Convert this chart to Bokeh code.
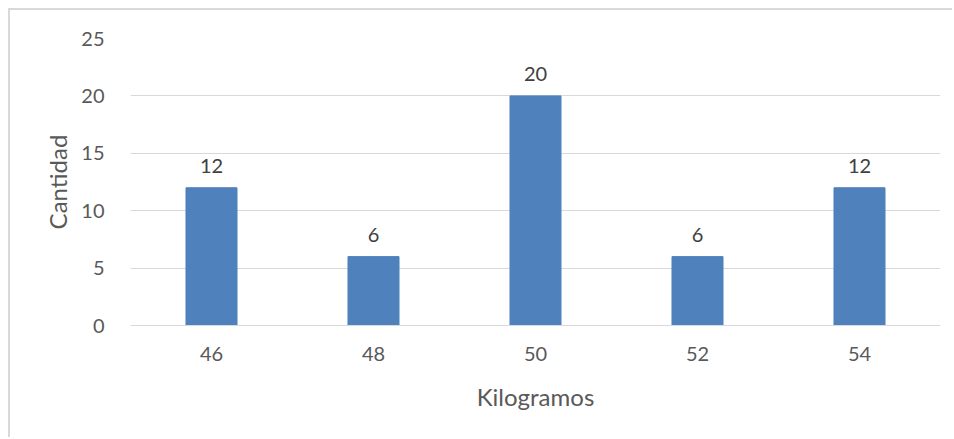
from bokeh.plotting import figure
from bokeh.models import ColumnDataSource, LabelSet, FixedTicker
from bokeh.core.properties import value
from bokeh.embed import file_html
from bokeh.resources import INLINE

categorias = ["46", "48", "50", "52", "54"]
cantidades = [12, 6, 20, 6, 12]
y_ticks = [0, 5, 10, 15, 20, 25]

FONT = "Lato"
GRID = "#d9d9d9"
TXT = "#595959"

source = ColumnDataSource(dict(x=categorias, y=cantidades, lbl=[str(v) for v in cantidades]))

p = figure(x_range=categorias, y_range=(0, 25), width=944, height=429,
           output_backend="svg", toolbar_location=None,
           min_border_left=120, min_border_right=14, min_border_top=28, min_border_bottom=114)
p.margin = (8, 0, 0, 8)
p.styles = {"border-top": "2px solid #d9d9d9", "border-left": "2px solid #d9d9d9"}
p.outline_line_color = None
p.background_fill_color = "white"
p.border_fill_color = "white"

p.vbar(x="x", top="y", width=0.315, source=source, color="#4F81BD")

labels = LabelSet(x="x", y="y", text="lbl", source=source, text_align="center",
                  text_baseline="bottom", y_offset=15, text_font=value(FONT),
                  text_font_size="20px", text_color="#404040")
p.add_layout(labels)

p.yaxis.ticker = FixedTicker(ticks=y_ticks)
p.ygrid.grid_line_color = GRID
p.xgrid.grid_line_color = None
p.yaxis.axis_line_color = None
p.xaxis.axis_line_color = GRID
p.xaxis.axis_line_width = 1
for ax in (p.xaxis, p.yaxis):
    ax.major_tick_line_color = None
    ax.minor_tick_line_color = None
    ax.major_label_text_font = FONT
    ax.major_label_text_font_size = "20px"
    ax.major_label_text_color = TXT
    ax.axis_label_text_font = FONT
    ax.axis_label_text_font_size = "24px"
    ax.axis_label_text_color = TXT
    ax.axis_label_text_font_style = "normal"
p.yaxis.major_label_standoff = 20
p.xaxis.major_label_standoff = 15
p.xaxis.axis_label = "Kilogramos"
p.yaxis.axis_label = "Cantidad"
p.xaxis.axis_label_standoff = 18
p.yaxis.axis_label_standoff = 6

open("out.html", "w").write(file_html(p, INLINE))
